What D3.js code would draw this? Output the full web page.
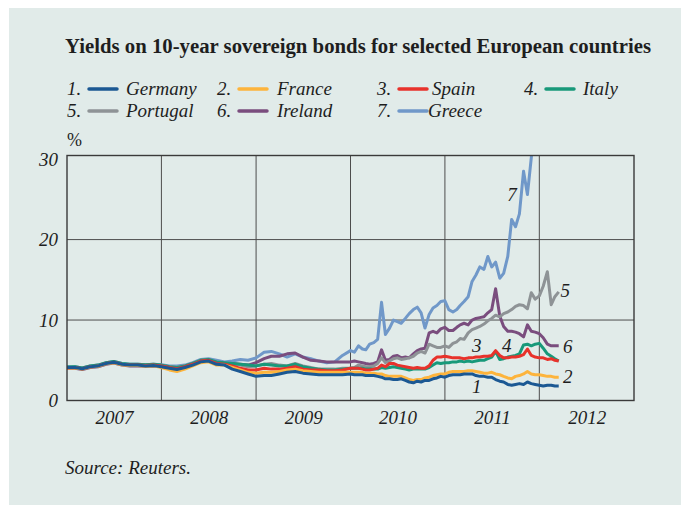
<!DOCTYPE html>
<html>
<head>
<meta charset="utf-8">
<script src="https://cdn.jsdelivr.net/npm/d3@7"></script>
<style>
  html, body { margin: 0; padding: 0; background: #ffffff; }
  svg { display: block; }
  text { font-family: "Liberation Serif", "DejaVu Serif", serif; fill: #1e1e1e; }
</style>
</head>
<body>
<svg id="chart" width="681" height="505"></svg>
<script>
// ---------------- DATA ----------------
const title = "Yields on 10-year sovereign bonds for selected European countries";
const source = "Source: Reuters.";
const unitLabel = "%";
const countries = ["Germany", "France", "Spain", "Italy", "Portugal", "Ireland", "Greece"];
const colors = ["#1b5893", "#fdb43c", "#e8322b", "#18997a", "#8e9396", "#7a4d7e", "#7098c9"];
const yTicks = [0, 10, 20, 30];
const yearLabels = ["2007", "2008", "2009", "2010", "2011", "2012"];
const yearBounds = ["2008-01-01", "2009-01-01", "2010-01-01", "2011-01-01", "2012-01-01"];

const dates = [
  "2007-01-01","2007-02-01","2007-03-01","2007-04-01","2007-05-01","2007-06-01",
  "2007-07-01","2007-08-01","2007-09-01","2007-10-01","2007-11-01","2007-12-01",
  "2008-01-01","2008-02-01","2008-03-01","2008-04-01","2008-05-01","2008-06-01",
  "2008-07-01","2008-08-01","2008-09-01","2008-10-01","2008-11-01","2008-12-01",
  "2009-01-01","2009-02-01","2009-03-01","2009-04-01","2009-05-01","2009-06-01",
  "2009-07-01","2009-08-01","2009-09-01","2009-10-01","2009-11-01","2009-12-01",
  "2010-01-01","2010-01-16","2010-02-01","2010-02-16","2010-03-01","2010-03-16",
  "2010-04-01","2010-04-16","2010-05-01","2010-05-16","2010-06-01","2010-06-16",
  "2010-07-01","2010-07-16","2010-08-01","2010-08-16","2010-09-01","2010-09-16",
  "2010-10-01","2010-10-16","2010-11-01","2010-11-16","2010-12-01","2010-12-16",
  "2011-01-01","2011-01-16","2011-02-01","2011-02-16","2011-03-01","2011-03-16",
  "2011-04-01","2011-04-16","2011-05-01","2011-05-16","2011-06-01","2011-06-16",
  "2011-07-01","2011-07-16","2011-08-01","2011-08-16","2011-09-01","2011-09-16",
  "2011-10-01","2011-10-16","2011-11-01","2011-11-16","2011-12-01","2011-12-16",
  "2012-01-01","2012-01-16","2012-02-01","2012-02-16","2012-03-01","2012-03-16"
];

const germany = [
  4.1,4.1,3.95,4.2,4.3,4.6,4.75,4.5,4.4,4.4,4.3,4.35,
  4.2,4.0,3.85,4.1,4.4,4.8,4.9,4.5,4.4,3.9,3.6,3.3,
  3.0,3.1,3.1,3.3,3.5,3.6,3.4,3.3,3.2,3.2,3.2,3.2,
  3.3,3.2,3.2,3.2,3.1,3.1,3.1,3.0,2.9,2.7,2.7,2.6,
  2.6,2.7,2.5,2.3,2.2,2.4,2.3,2.5,2.5,2.7,2.8,3.0,
  2.9,3.1,3.2,3.2,3.2,3.3,3.3,3.3,3.1,3.0,3.0,2.9,
  2.9,2.6,2.4,2.3,2.0,1.9,2.0,2.1,2.0,2.3,2.1,2.0,
  1.9,1.8,1.9,1.9,1.8,1.8
];
const france = [
  4.05,4.05,3.9,4.15,4.25,4.55,4.7,4.45,4.35,4.35,4.25,4.3,
  4.1,3.8,3.6,3.9,4.3,4.7,4.8,4.4,4.4,4.1,3.8,3.5,
  3.4,3.5,3.5,3.6,3.8,3.9,3.7,3.6,3.5,3.5,3.5,3.5,
  3.5,3.5,3.5,3.5,3.4,3.4,3.4,3.3,3.3,3.1,3.0,3.0,
  3.0,3.0,2.8,2.6,2.5,2.6,2.6,2.8,2.9,3.1,3.2,3.3,
  3.3,3.5,3.6,3.6,3.6,3.6,3.7,3.7,3.6,3.5,3.4,3.4,
  3.5,3.3,3.2,3.0,2.8,2.7,3.0,3.1,3.3,3.6,3.3,3.2,
  3.2,3.1,3.0,3.0,2.9,2.9
];
const spain = [
  4.05,4.1,3.95,4.2,4.3,4.6,4.75,4.5,4.4,4.4,4.35,4.4,
  4.3,4.1,3.95,4.2,4.5,4.9,5.0,4.6,4.5,4.3,4.0,3.8,
  3.8,4.0,3.9,3.9,4.0,4.2,3.9,3.8,3.8,3.7,3.7,3.8,
  4.0,4.0,4.0,3.9,3.8,3.8,3.9,4.0,4.4,4.2,4.6,4.6,
  4.4,4.3,4.2,4.1,4.0,4.1,4.0,4.0,4.3,5.0,5.4,5.4,
  5.5,5.4,5.3,5.3,5.3,5.2,5.3,5.3,5.4,5.4,5.5,5.5,
  5.6,6.2,5.6,5.3,5.3,5.4,5.4,5.5,5.7,6.4,5.6,5.4,
  5.3,5.3,5.1,5.2,5.0,4.9
];
const italy = [
  4.15,4.2,4.05,4.3,4.4,4.7,4.85,4.6,4.5,4.5,4.45,4.5,
  4.4,4.2,4.1,4.3,4.6,5.0,5.1,4.8,4.7,4.6,4.5,4.4,
  4.3,4.5,4.4,4.3,4.3,4.5,4.2,4.0,3.9,3.8,3.8,3.9,
  4.0,4.0,4.0,4.0,3.9,3.9,3.9,3.9,4.1,4.0,4.1,4.2,
  4.1,4.0,3.9,3.8,3.9,3.9,3.9,3.9,4.1,4.4,4.7,4.6,
  4.7,4.7,4.8,4.8,4.9,4.8,4.9,4.8,4.9,5.0,5.0,5.2,
  5.4,6.1,5.1,5.2,5.4,5.5,5.6,5.8,6.9,7.0,6.8,7.0,
  7.1,6.5,5.8,5.5,5.2,4.9
];
const portugal = [
  4.1,4.15,4.0,4.25,4.35,4.65,4.8,4.55,4.45,4.45,4.4,4.45,
  4.35,4.2,4.1,4.3,4.6,5.0,5.1,4.7,4.6,4.5,4.4,4.2,
  4.3,4.5,4.6,4.4,4.3,4.6,4.3,4.1,3.9,3.9,3.9,4.0,
  4.0,4.1,4.4,4.3,4.2,4.2,4.3,4.6,5.3,4.7,4.9,5.2,
  5.3,5.1,5.2,5.3,5.5,5.9,6.1,5.9,7.0,6.8,6.6,6.6,
  6.8,6.6,7.1,7.3,7.7,7.6,8.4,8.8,9.0,9.2,9.5,9.9,
  10.2,10.6,10.4,10.8,11.0,11.3,11.7,11.9,11.8,11.4,13.4,12.6,
  13.0,14.2,16.0,11.9,12.9,13.5
];
const ireland = [
  4.0,4.0,3.85,4.1,4.2,4.5,4.65,4.4,4.3,4.3,4.25,4.3,
  4.2,4.0,3.9,4.2,4.5,4.9,5.0,4.7,4.6,4.6,4.5,4.4,
  4.7,5.2,5.5,5.5,5.8,5.9,5.4,5.0,4.9,4.8,4.8,4.8,
  4.8,4.9,4.8,4.7,4.6,4.5,4.6,4.8,6.3,5.0,5.1,5.5,
  5.6,5.3,5.4,5.3,5.8,6.2,6.4,6.5,8.4,8.6,8.4,8.9,
  9.1,8.7,8.7,9.1,9.4,9.6,9.4,10.0,10.2,10.3,10.4,10.9,
  11.3,13.9,10.5,9.2,8.6,8.6,8.5,8.3,7.9,9.4,8.6,8.5,
  8.3,7.8,7.0,6.8,6.8,6.8
];
const greece = [
  4.2,4.2,4.05,4.3,4.4,4.7,4.85,4.6,4.5,4.5,4.45,4.5,
  4.45,4.3,4.3,4.4,4.7,5.1,5.2,5.0,4.8,4.9,5.1,5.0,
  5.3,6.0,6.1,5.8,5.4,5.8,5.4,5.2,4.9,4.7,4.8,5.6,
  6.2,6.0,6.8,6.4,6.3,7.0,7.2,7.6,12.2,8.2,9.0,10.0,
  9.8,9.6,10.2,10.8,11.3,11.6,10.9,9.0,10.7,11.5,11.8,12.3,
  12.4,11.3,11.0,11.3,11.8,12.3,12.9,14.8,15.6,16.6,16.3,17.9,
  16.6,17.2,15.2,15.8,17.9,22.5,21.6,23.2,28.5,25.6,30.2,35.0,
  null,null,null,null,null,null
];
const seriesValues = [germany, france, spain, italy, portugal, ireland, greece];

// Series annotations: label, date, value
const annoLabels = ["1", "2", "3", "4", "5", "6", "7"];
const annoDates = ["2011-05-04", "2012-04-20", "2011-05-04", "2011-08-28", "2012-04-10", "2012-04-20", "2011-09-17"];
const annoValues = [1.7, 3.0, 6.8, 6.8, 13.7, 6.7, 25.6];

// ---------------- CHART ----------------
const svg = d3.select("#chart");
const parse = d3.timeParse("%Y-%m-%d");

svg.append("rect").attr("x", 9).attr("y", 8).attr("width", 672).attr("height", 497).attr("fill", "#e1ebe9");

const x = d3.scaleTime().domain([parse("2007-01-01"), parse("2013-01-01")]).range([67, 634]);
const y = d3.scaleLinear().domain([0, 30.45]).range([400.5, 155.5]);

// title
svg.append("text").attr("x", 65).attr("y", 53).attr("font-size", 20).attr("font-weight", "bold")
  .attr("textLength", 586).attr("lengthAdjust", "spacingAndGlyphs")
  .text(title);

// legend
const legCols = [67, 217, 377, 524];
const nameOff = [59, 60, 55, 59];
countries.forEach((c, i) => {
  const row = Math.floor(i / 4), col = i % 4;
  const gx = legCols[col], gy = 95 + row * 22;
  const g = svg.append("g");
  g.append("text").attr("x", gx).attr("y", gy).attr("font-size", 19).attr("font-style", "italic").text((i + 1) + ".");
  g.append("line").attr("x1", gx + 22).attr("x2", gx + 50).attr("y1", gy - 6).attr("y2", gy - 6)
    .attr("stroke", colors[i]).attr("stroke-width", 3.5).attr("stroke-linecap", "round");
  g.append("text").attr("x", gx + (i === 6 ? 51 : nameOff[col])).attr("y", gy).attr("font-size", 19)
    .attr("font-style", "italic").text(c);
});

svg.append("text").attr("x", 67).attr("y", 146).attr("font-size", 18).text(unitLabel);

// gridlines
const gridCol = "#4d4d4d";
svg.append("g").selectAll("line").data(yTicks.filter(v => v > 0 && v < 30)).join("line")
  .attr("x1", 67).attr("x2", 634).attr("y1", d => y(d)).attr("y2", d => y(d))
  .attr("stroke", gridCol).attr("stroke-width", 1);
svg.append("g").selectAll("line").data(yearBounds).join("line")
  .attr("x1", d => x(parse(d))).attr("x2", d => x(parse(d))).attr("y1", 155.5).attr("y2", 400.5)
  .attr("stroke", gridCol).attr("stroke-width", 1);

// clip
svg.append("clipPath").attr("id", "plotclip").append("rect")
  .attr("x", 67).attr("y", 155.5).attr("width", 567).attr("height", 245);

const line = d3.line()
  .defined(d => d.v !== null)
  .x(d => x(d.t)).y(d => y(d.v));

const plot = svg.append("g").attr("clip-path", "url(#plotclip)");
for (let i = countries.length - 1; i >= 0; i--) {
  const pts = dates.map((d, k) => ({ t: parse(d), v: seriesValues[i][k] }));
  plot.append("path").datum(pts).attr("d", line).attr("fill", "none")
    .attr("stroke", colors[i]).attr("stroke-width", 3).attr("stroke-linejoin", "round");
}

// frame
svg.append("rect").attr("x", 67).attr("y", 155.5).attr("width", 567).attr("height", 245)
  .attr("fill", "none").attr("stroke", "#3a3a3a").attr("stroke-width", 1.4);

// y axis labels
const yAxis = d3.axisLeft(y).tickValues(yTicks).tickSize(0).tickPadding(9).tickFormat(d3.format("d"));
const yg = svg.append("g").attr("transform", "translate(67,0)").call(yAxis);
yg.select(".domain").remove();
yg.selectAll("text").attr("font-size", 19).attr("font-style", "italic")
  .attr("font-family", "Liberation Serif, serif").attr("fill", "#1e1e1e");

// x axis labels (centered in each year)
const midYears = yearLabels.map(yl => parse(yl + "-07-02"));
const xAxis = d3.axisBottom(x).tickValues(midYears).tickSize(0).tickPadding(10)
  .tickFormat((d, i) => yearLabels[i]);
const xg = svg.append("g").attr("transform", "translate(0,400.5)").call(xAxis);
xg.select(".domain").remove();
xg.selectAll("text").attr("font-size", 19).attr("font-style", "italic")
  .attr("font-family", "Liberation Serif, serif").attr("fill", "#1e1e1e");

// annotations
svg.append("g").selectAll("text").data(annoLabels).join("text")
  .attr("x", (d, i) => x(parse(annoDates[i]))).attr("y", (d, i) => y(annoValues[i]))
  .attr("dy", "0.35em").attr("text-anchor", "middle").attr("font-size", 19).attr("font-style", "italic")
  .text(d => d);

// source
svg.append("text").attr("x", 65).attr("y", 474).attr("font-size", 19).attr("font-style", "italic").text(source);
</script>
</body>
</html>
